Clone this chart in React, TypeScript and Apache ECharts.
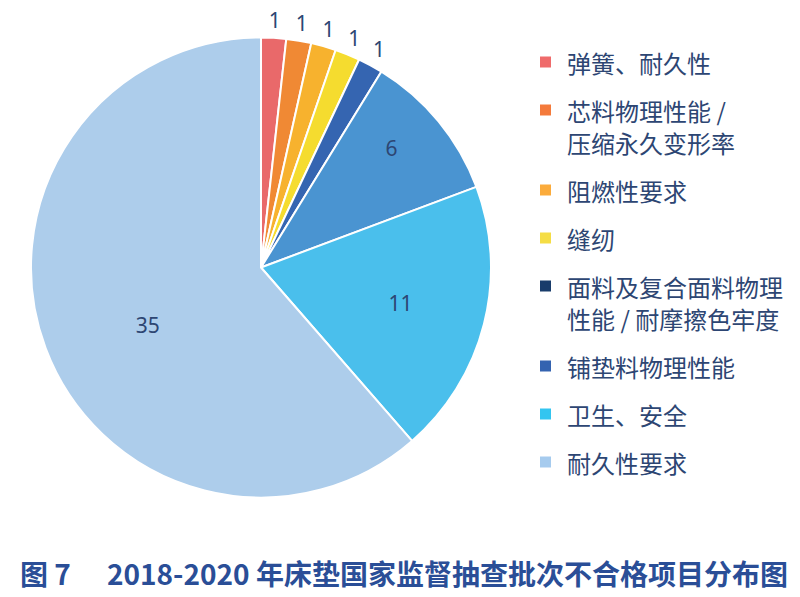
import React, { useEffect, useRef } from "react";
import * as echarts from "echarts";

const categories = [
  "弹簧、耐久性",
  "芯料物理性能 /\n压缩永久变形率",
  "阻燃性要求",
  "缝纫",
  "面料及复合面料物理\n性能 / 耐摩擦色牢度",
  "铺垫料物理性能",
  "卫生、安全",
  "耐久性要求",
];
const values = [1, 1, 1, 1, 1, 6, 11, 35];
const sliceColors = ["#e9696a", "#f08934", "#f7b22e", "#f5dc2f", "#3565b1", "#4a94d1", "#4abfec", "#adcdeb"];
const legendColors = ["#ef6b6b", "#f47a3b", "#fbab3b", "#f5dd45", "#193c6b", "#3463b0", "#33c5f0", "#a6cbee"];
const titleFigure = "图 7";
const titleText = "2018-2020 年床垫国家监督抽查批次不合格项目分布图";

const CX = 261;
const CY = 267.5;
const R = 230;
// label distance from centre and angular shift (degrees), per slice
const labelRadius = [248, 248, 248, 248, 248, 177, 144, 127];
const labelAngleShift = [0, 0, 0, 0, 0, -3, 0, -6.5];

const TEXT_COLOR = "#2d4673";
const CJK = "'Noto Sans CJK SC', 'Noto Sans', sans-serif";

export default function App() {
  const ref = useRef<HTMLDivElement>(null);
  useEffect(() => {
    if (!ref.current) return;
    const chart = echarts.init(ref.current, undefined, { renderer: "svg" });

    const legendGraphics: any[] = [];
    let y = 62;
    const lineH = 32;
    const gap = 16;
    categories.forEach((name, i) => {
      const lines = name.split("\n");
      legendGraphics.push({
        type: "rect",
        shape: { x: 540, y: y - 5.5, width: 11, height: 11 },
        style: { fill: legendColors[i] },
      });
      lines.forEach((ln, j) => {
        legendGraphics.push({
          type: "text",
          x: 567,
          y: y + j * lineH,
          style: {
            text: ln,
            fill: TEXT_COLOR,
            font: `24px ${CJK}`,
            textVerticalAlign: "middle",
            verticalAlign: "middle",
          },
        });
      });
      y += (lines.length - 1) * lineH + lineH + gap;
    });

    chart.setOption({
      animation: false,
      backgroundColor: "#ffffff",
      title: [
        {
          text: titleFigure,
          left: 15,
          top: 554,
          textStyle: { fontSize: 28, fontWeight: "bold", color: "#2a4e97", fontFamily: CJK },
        },
        {
          text: titleText,
          left: 102,
          top: 554,
          textStyle: { fontSize: 28, fontWeight: "bold", color: "#2a4e97", fontFamily: CJK },
        },
      ],
      graphic: legendGraphics,
      series: [
        {
          type: "pie",
          center: [CX, CY],
          radius: [0, R],
          startAngle: 90,
          clockwise: true,
          itemStyle: { borderColor: "#ffffff", borderWidth: 2 },
          label: {
            show: true,
            position: "inside",
            fontSize: 21,
            color: TEXT_COLOR,
            fontFamily: "'Noto Sans', sans-serif",
            formatter: "{c}",
          },
          labelLine: { show: false },
          emphasis: { disabled: true },
          labelLayout: (p: any) => {
            const r = p.labelRect;
            const lx = r.x + r.width / 2;
            const ly = r.y + r.height / 2;
            const a0 = Math.atan2(ly - CY, lx - CX);
            const a = a0 + (labelAngleShift[p.dataIndex] * Math.PI) / 180;
            const t = labelRadius[p.dataIndex];
            return { x: CX + Math.cos(a) * t, y: CY + Math.sin(a) * t, align: "center", verticalAlign: "middle" };
          },
          data: categories.map((name, i) => ({
            name,
            value: values[i],
            itemStyle: { color: sliceColors[i] },
          })),
        },
      ],
    });
    return () => chart.dispose();
  }, []);
  return (
    <div
      ref={ref}
      style={{ position: "fixed", left: 0, top: 0, width: 800, height: 597 }}
    />
  );
}
